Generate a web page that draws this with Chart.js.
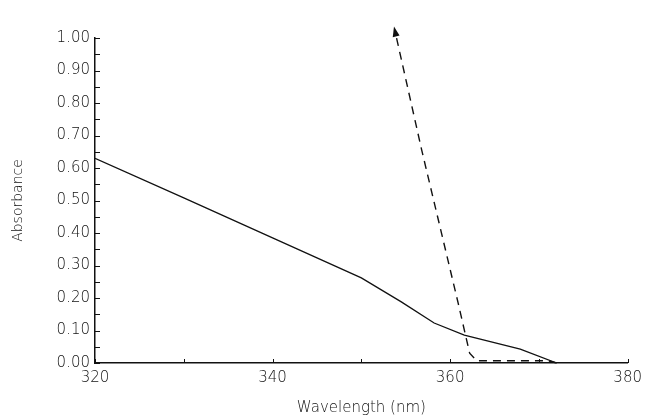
<!DOCTYPE html>
<html>
<head>
<meta charset="utf-8">
<script src="https://cdn.jsdelivr.net/npm/chart.js@4/dist/chart.umd.min.js"></script>
<style>
  html, body { margin: 0; padding: 0; background: #fff; }
  #wrap { width: 648px; height: 418px; }
</style>
</head>
<body>
<div id="wrap"><canvas id="spectrum"></canvas></div>
<script>
// solid trace
var solidNm = [320, 330, 340, 350, 354.5, 358.2, 361.6, 367.9, 372];
var solidAbs = [0.63, 0.508, 0.385, 0.262, 0.188, 0.123, 0.086, 0.043, 0.0];

// dashed trace, runs from the baseline up to the arrow
var dashNm = [372, 371, 363, 362.2, 360.9, 356.8, 353.8];
var dashAbs = [0.0, 0.007, 0.007, 0.03, 0.185, 0.655, 1.02];

var xTickStep = 10;
var yTickStep = 0.05;

function toPoints(xs, ys) {
    var pts = [], i;
    for (i = 0; i < xs.length; i += 1) {
        pts.push({x: xs[i], y: ys[i]});
    }
    return pts;
}

var ink = '#111';
var tickFont = {family: 'DejaVu Sans', size: 15, weight: 200};

// short tick marks drawn inside the plot area
var inwardTicks = {
    id: 'inwardTicks',
    afterDatasetsDraw: function (chart) {
        var ctx = chart.ctx, area = chart.chartArea;
        var sx = chart.scales.x, sy = chart.scales.y;
        ctx.save();
        ctx.strokeStyle = ink;
        ctx.lineWidth = 1;
        ctx.beginPath();
        sx.ticks.forEach(function (t, i) {
            var px = Math.round(sx.getPixelForTick(i)) + 0.5;
            ctx.moveTo(px, area.bottom);
            ctx.lineTo(px, area.bottom - 4);
        });
        sy.ticks.forEach(function (t, i) {
            var py = Math.round(sy.getPixelForTick(i)) + 0.5;
            ctx.moveTo(area.left, py);
            ctx.lineTo(area.left + 5, py);
        });
        ctx.stroke();
        ctx.restore();
    }
};

// arrowhead on the end of the dashed trace (it sits above the plot area,
// where Chart.js won't draw point markers)
var arrowHead = {
    id: 'arrowHead',
    afterDatasetsDraw: function (chart) {
        var pts = chart.getDatasetMeta(1).data;
        var a = pts[pts.length - 2], b = pts[pts.length - 1];
        var ang = Math.atan2(b.y - a.y, b.x - a.x);
        var len = 10, half = 3.5;
        var ctx = chart.ctx;
        ctx.save();
        ctx.translate(b.x, b.y);
        ctx.rotate(ang);
        ctx.fillStyle = ink;
        ctx.beginPath();
        ctx.moveTo(len * 0.5, 0);
        ctx.lineTo(-len * 0.5, -half);
        ctx.lineTo(-len * 0.5, half);
        ctx.closePath();
        ctx.fill();
        ctx.restore();
    }
};

new Chart(document.getElementById('spectrum'), {
    type: 'line',
    data: {
        datasets: [{
            data: toPoints(solidNm, solidAbs),
            borderColor: ink,
            borderWidth: 1.3,
            pointRadius: 0,
            tension: 0,
            fill: false
        }, {
            data: toPoints(dashNm, dashAbs),
            borderColor: ink,
            borderWidth: 1.4,
            borderDash: [8, 6],
            pointRadius: 0,
            tension: 0,
            fill: false,
            clip: false
        }]
    },
    options: {
        responsive: true,
        maintainAspectRatio: false,
        animation: false,
        layout: {padding: {left: 4, right: 17, top: 38, bottom: 0}},
        plugins: {legend: {display: false}, tooltip: {enabled: false}},
        scales: {
            x: {
                type: 'linear',
                min: 320,
                max: 380,
                grid: {display: true, drawOnChartArea: false, drawTicks: false},
                border: {display: true, color: ink, width: 1.5},
                ticks: {
                    stepSize: xTickStep,
                    autoSkip: false,
                    maxRotation: 0,
                    padding: 6,
                    color: ink,
                    font: tickFont,
                    callback: function (v) { return v % 20 === 0 ? String(v) : ''; }
                },
                title: {
                    display: true,
                    text: 'Wavelength (nm)',
                    color: ink,
                    font: {family: 'DejaVu Sans', size: 15, weight: 200},
                    padding: {top: 4, bottom: 1}
                },
                afterFit: function (s) { s.height = 55; }
            },
            y: {
                min: 0,
                max: 1,
                grid: {display: true, drawOnChartArea: false, drawTicks: false},
                border: {display: true, color: ink, width: 1.5},
                ticks: {
                    stepSize: yTickStep,
                    autoSkip: false,
                    padding: 5,
                    color: ink,
                    font: tickFont,
                    callback: function (v) {
                        var c = Math.round(v * 100);
                        return c % 10 === 0 ? (c / 100).toFixed(2) : '';
                    }
                },
                title: {
                    display: true,
                    text: 'Absorbance',
                    color: ink,
                    font: {family: 'DejaVu Sans', size: 14, weight: 200},
                    padding: {top: 6, bottom: 2}
                },
                afterFit: function (s) { s.width = 91; }
            }
        }
    },
    plugins: [inwardTicks, arrowHead]
});
</script>
</body>
</html>
